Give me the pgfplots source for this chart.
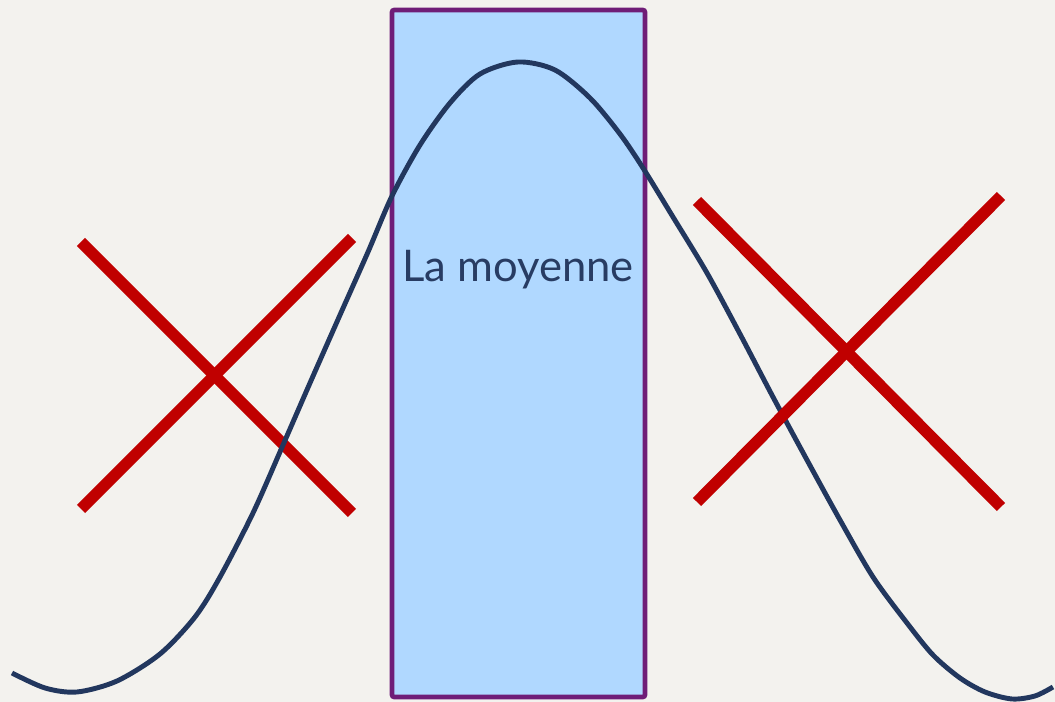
\documentclass[border=0pt]{standalone}
\usepackage{pgfplots}
\pgfplotsset{compat=1.18}
\usepackage{fontspec}
\setmainfont{Lato}
\definecolor{paper}{HTML}{F3F2EE}
\definecolor{boxfill}{HTML}{B0D8FF}
\definecolor{boxline}{HTML}{6F1D77}
\definecolor{curve}{HTML}{22375E}
\definecolor{txt}{HTML}{283C63}
\definecolor{cross}{HTML}{C00000}

\begin{document}
\begin{tikzpicture}
\begin{axis}[
  scale only axis,
  width=10.55cm,
  height=7.02cm,
  xmin=0, xmax=1055,
  ymin=0, ymax=702,
  y dir=reverse,
  axis lines=none,
  ticks=none,
  axis background/.style={fill=paper},
  clip=true
]
% the mean band
\addplot[draw=boxline, fill=boxfill, line width=1.3pt, rounded corners=0.6pt]
  coordinates {(392,10) (645,10) (645,697) (392,697)} -- cycle;

% left cross
\addplot[cross, line width=3.3pt] coordinates {(81,242) (352,513)};
\addplot[cross, line width=3.3pt] coordinates {(81,509) (352,238)};

% bell curve
\addplot[curve, line width=1.4pt, smooth] coordinates {
  (12,673) (45,688) (77,692) (117,681) (160,654) (195,617) (220,577)
  (253,513) (283,445) (310,383) (340,315) (368,252) (392,196) (420,145)
  (450,103) (480,74) (518,62) (555,70) (590,98) (620,134) (643,168)
  (673,217) (707,273) (740,334) (773,397) (807,460) (840,520) (873,577)
  (907,623) (933,655) (960,678) (985,692) (1012,699) (1035,696) (1053,687)
};

% right cross
\addplot[cross, line width=3.3pt] coordinates {(697,201) (1001,507)};
\addplot[cross, line width=3.3pt] coordinates {(697,502) (1001,196)};

\node[anchor=base, text=txt, font=\fontsize{12.4}{15}\selectfont]
  at (axis cs:518,282) {La moyenne};
\end{axis}
\end{tikzpicture}
\end{document}
